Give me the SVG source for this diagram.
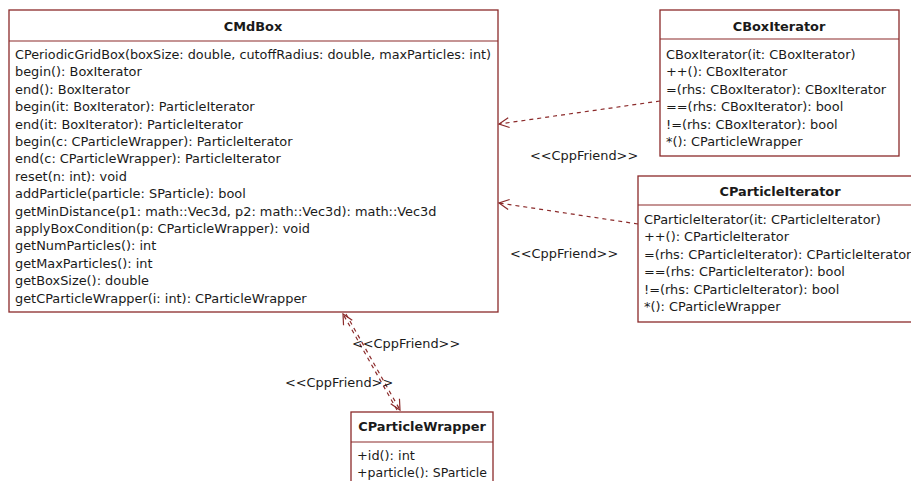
<svg xmlns="http://www.w3.org/2000/svg" width="911" height="481" viewBox="0 0 911 481">
<style>
.box{fill:#fff;stroke:#8b2a2a;stroke-width:1.3}
.sep{stroke:#8b2a2a;stroke-width:1.2}
.t{font-family:"DejaVu Sans",Verdana,sans-serif;font-size:12.9px;fill:#1a1a1a}
.h{font-family:"DejaVu Sans",Verdana,sans-serif;font-size:12.9px;font-weight:bold;fill:#1a1a1a;text-anchor:middle}
.c{fill:none;stroke:#8b2a2a;stroke-width:1.2;stroke-dasharray:4,4}
</style>
<defs>
<marker id="open" viewBox="0 0 12 12" refX="11" refY="6" markerWidth="12" markerHeight="12" markerUnits="userSpaceOnUse" orient="auto">
<path d="M1,1 L11,6 L1,11" fill="none" stroke="#8b2a2a" stroke-width="1.2"/>
</marker>
</defs>
<rect width="911" height="481" fill="#fff"/>
<g id="connectors">
<path class="c" d="M660,101 L499,124" marker-end="url(#open)"/>
<path class="c" d="M638,224 L499,203" marker-end="url(#open)"/>
<path class="c" d="M397,410 L343,314" marker-end="url(#open)"/>
<path class="c" d="M346,314 L400,410" marker-end="url(#open)"/>
<text class="t" x="530" y="160">&lt;&lt;CppFriend&gt;&gt;</text>
<text class="t" x="510" y="258">&lt;&lt;CppFriend&gt;&gt;</text>
<text class="t" x="352" y="348">&lt;&lt;CppFriend&gt;&gt;</text>
<text class="t" x="285" y="387">&lt;&lt;CppFriend&gt;&gt;</text>
</g>
<g id="CMdBox">
<rect class="box" x="9" y="10" width="489" height="302"/>
<line class="sep" x1="9" y1="41" x2="498" y2="41"/>
<text class="h" x="253" y="31">CMdBox</text>
<text class="t" x="15" y="59" textLength="476" lengthAdjust="spacingAndGlyphs">CPeriodicGridBox(boxSize: double, cutoffRadius: double, maxParticles: int)</text>
<text class="t" x="15" y="76.4">begin(): BoxIterator</text>
<text class="t" x="15" y="93.8">end(): BoxIterator</text>
<text class="t" x="15" y="111.2">begin(it: BoxIterator): ParticleIterator</text>
<text class="t" x="15" y="128.6">end(it: BoxIterator): ParticleIterator</text>
<text class="t" x="15" y="146">begin(c: CParticleWrapper): ParticleIterator</text>
<text class="t" x="15" y="163.4">end(c: CParticleWrapper): ParticleIterator</text>
<text class="t" x="15" y="180.8">reset(n: int): void</text>
<text class="t" x="15" y="198.2">addParticle(particle: SParticle): bool</text>
<text class="t" x="15" y="215.6">getMinDistance(p1: math::Vec3d, p2: math::Vec3d): math::Vec3d</text>
<text class="t" x="15" y="233">applyBoxCondition(p: CParticleWrapper): void</text>
<text class="t" x="15" y="250.4">getNumParticles(): int</text>
<text class="t" x="15" y="267.8">getMaxParticles(): int</text>
<text class="t" x="15" y="285.2">getBoxSize(): double</text>
<text class="t" x="15" y="302.6">getCParticleWrapper(i: int): CParticleWrapper</text>
</g>
<g id="CBoxIterator">
<rect class="box" x="660" y="10" width="239" height="146"/>
<line class="sep" x1="660" y1="39" x2="899" y2="39"/>
<text class="h" x="779" y="31">CBoxIterator</text>
<text class="t" x="666" y="59">CBoxIterator(it: CBoxIterator)</text>
<text class="t" x="666" y="76.4">++(): CBoxIterator</text>
<text class="t" x="666" y="93.8">=(rhs: CBoxIterator): CBoxIterator</text>
<text class="t" x="666" y="111.2">==(rhs: CBoxIterator): bool</text>
<text class="t" x="666" y="128.6">!=(rhs: CBoxIterator): bool</text>
<text class="t" x="666" y="146">*(): CParticleWrapper</text>
</g>
<g id="CParticleIterator">
<rect class="box" x="638" y="176" width="285" height="146"/>
<line class="sep" x1="638" y1="205" x2="923" y2="205"/>
<text class="h" x="780" y="196">CParticleIterator</text>
<text class="t" x="644" y="224">CParticleIterator(it: CParticleIterator)</text>
<text class="t" x="644" y="241.4">++(): CParticleIterator</text>
<text class="t" x="644" y="258.8">=(rhs: CParticleIterator): CParticleIterator</text>
<text class="t" x="644" y="276.2">==(rhs: CParticleIterator): bool</text>
<text class="t" x="644" y="293.6">!=(rhs: CParticleIterator): bool</text>
<text class="t" x="644" y="311">*(): CParticleWrapper</text>
</g>
<g id="CParticleWrapper">
<rect class="box" x="351" y="412" width="142" height="80"/>
<line class="sep" x1="351" y1="442" x2="493" y2="442"/>
<text class="h" x="422" y="431">CParticleWrapper</text>
<text class="t" x="357" y="460">+id(): int</text>
<text class="t" x="357" y="477" textLength="130" lengthAdjust="spacingAndGlyphs">+particle(): SParticle</text>
</g>
</svg>
